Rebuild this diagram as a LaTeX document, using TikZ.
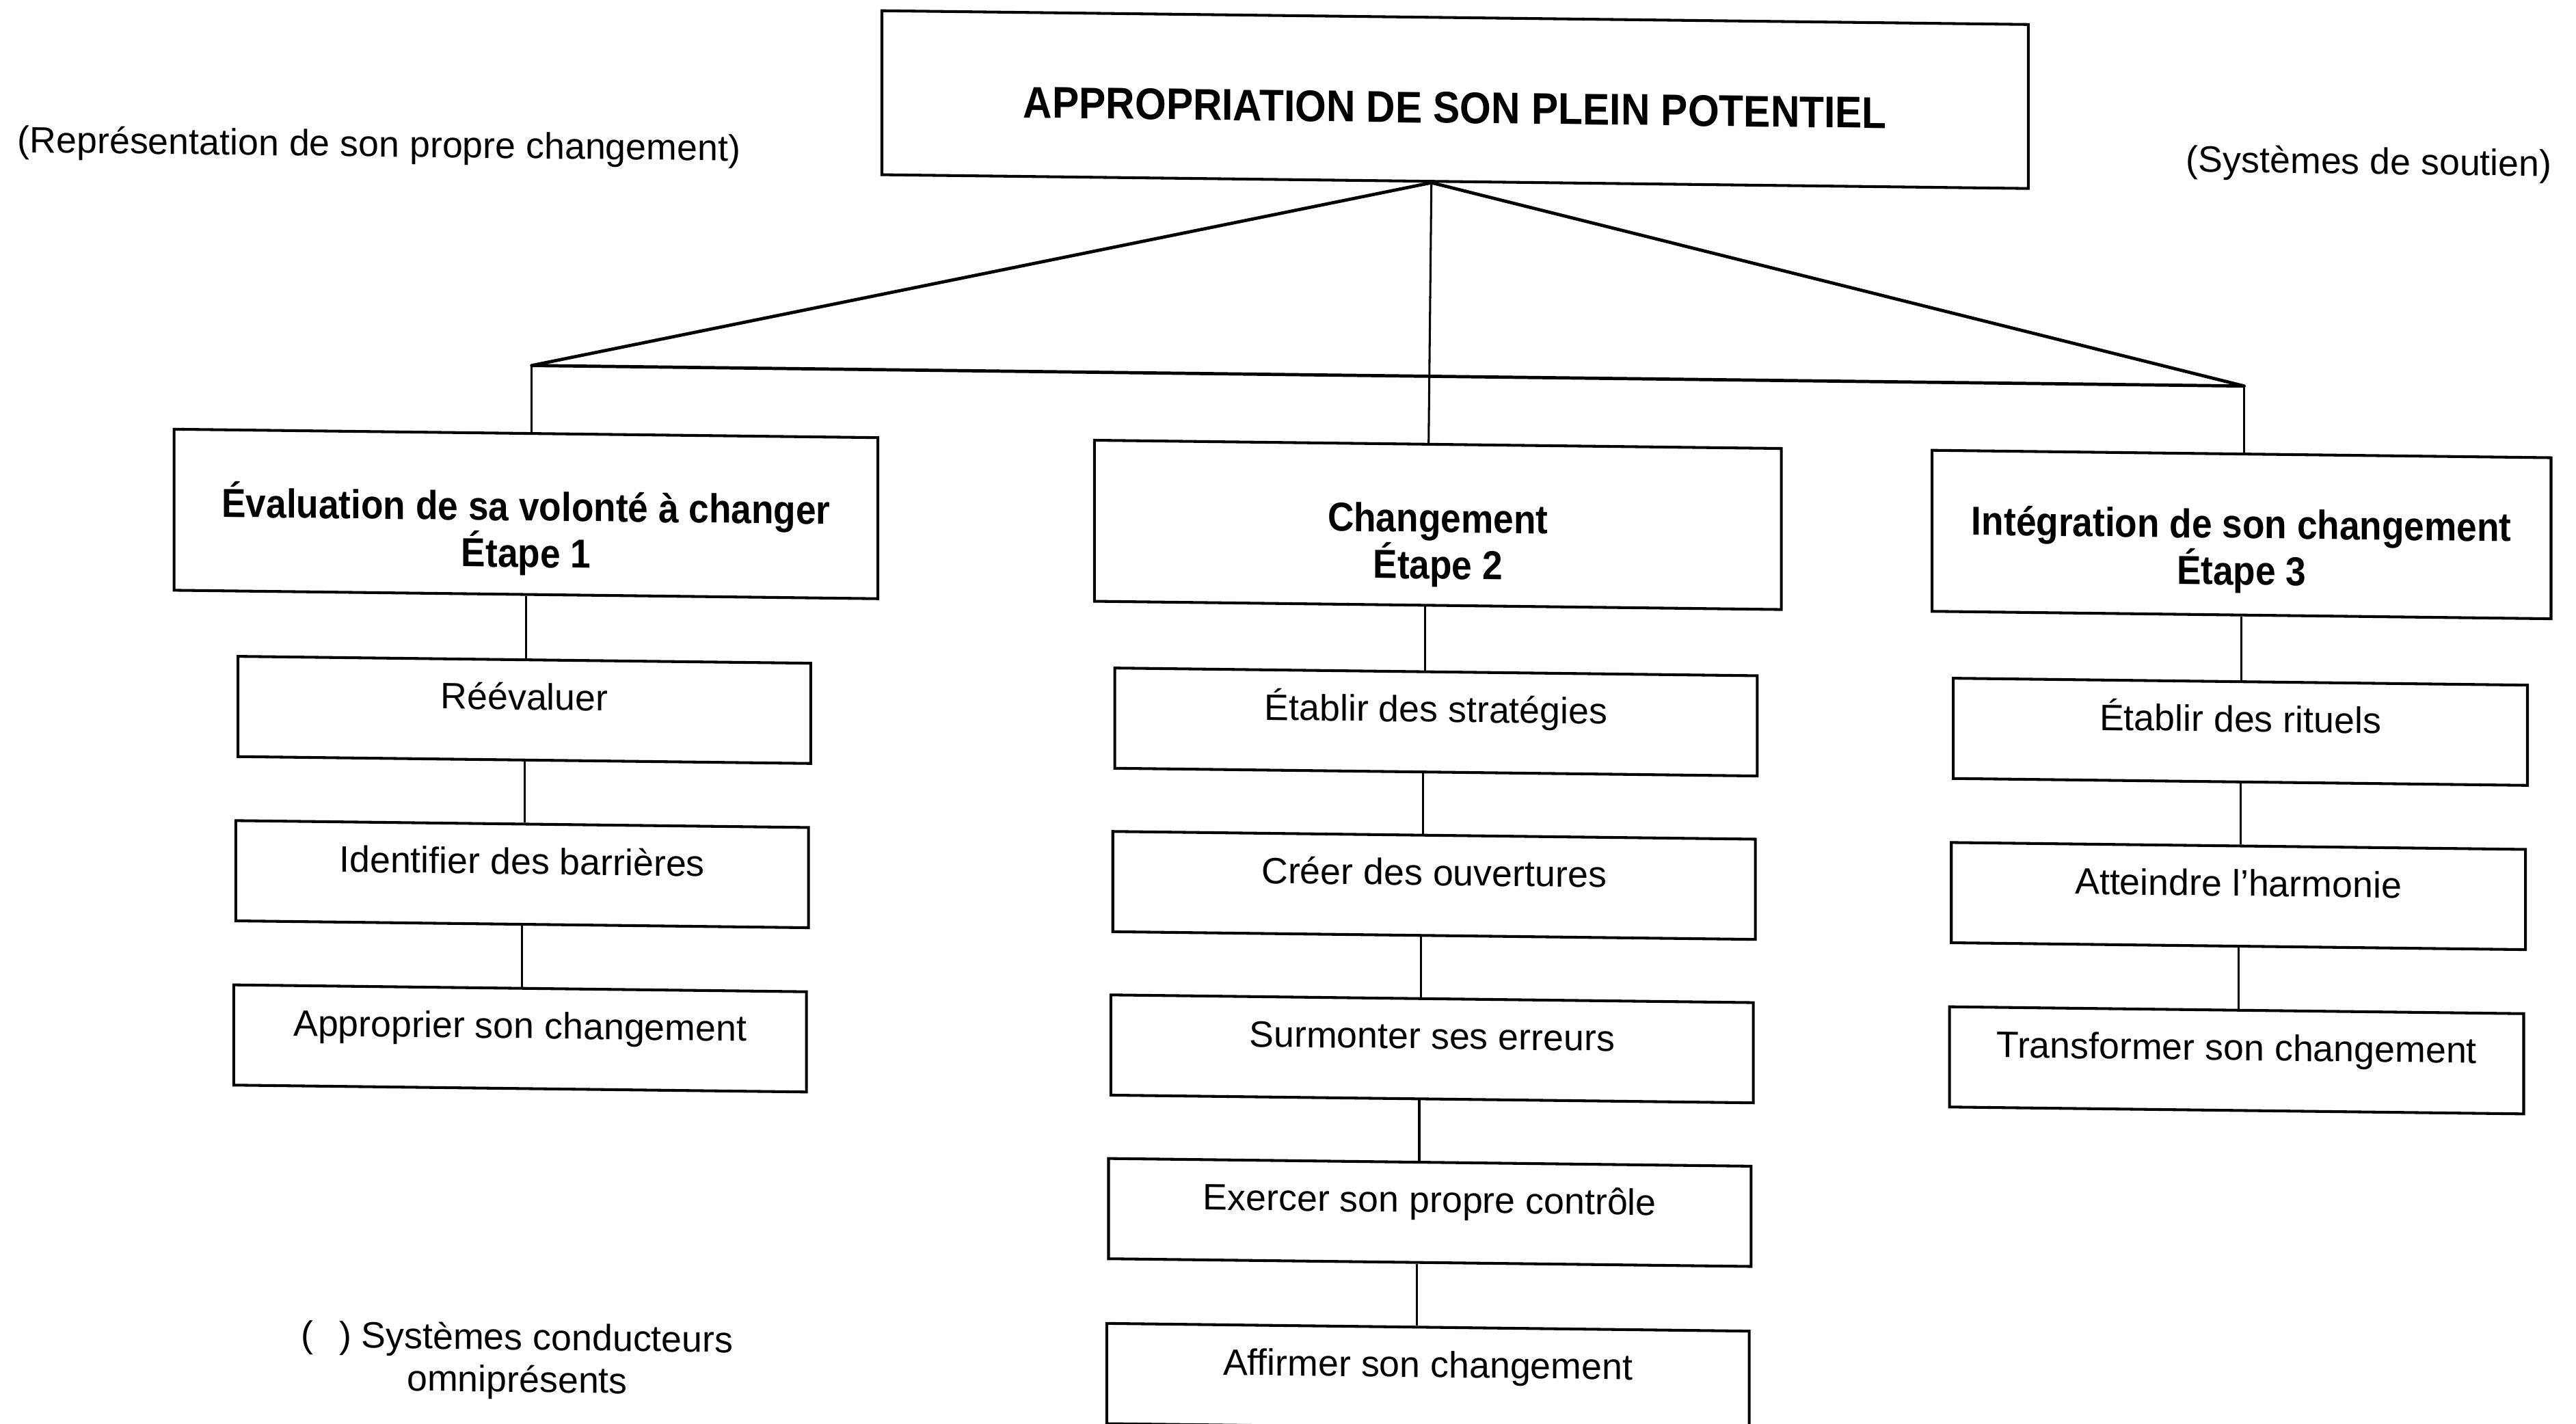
\documentclass[tikz,border=0pt]{standalone}
\usepackage{fontspec}
\usepackage{graphicx}
\setmainfont{Liberation Sans}
\newcommand{\narrowtxt}[1]{\scalebox{0.9}[1]{#1}}
\begin{document}
\begin{tikzpicture}[x=0.025cm, y=-0.025cm]
\useasboundingbox (0,0) rectangle (1568,866.4);
\clip (0,0) rectangle (1568,866.4);
\begin{scope}[cm={1,-0.012,0,1,(0,0)},
  every node/.style={transform shape},
  boxline/.style={draw=black, line width=1.2pt},
  apexbox/.style={boxline, inner sep=0pt, minimum width=17.44cm, minimum height=2.495cm},
  mainbox/.style={boxline, inner sep=0pt, minimum height=2.45cm},
  subbox/.style={boxline, inner xsep=0pt, inner ysep=0pt, text height=0.7625cm, text depth=0.7625cm, font=\fontsize{15.9}{19}\selectfont},
  titletext/.style={inner sep=0pt, font=\fontsize{19.2}{23}\selectfont\bfseries},
  headtext/.style={inner sep=0pt, align=center, font=\fontsize{17.5}{18.5}\selectfont\bfseries},
  notetext/.style={inner sep=0pt, font=\fontsize{15.9}{18.3}\selectfont},
  conn/.style={draw=black, line width=0.9pt},
  apexline/.style={draw=black, line width=1.4pt, line join=round}
]

% top box
\node[apexbox] (topbox) at (885.7,50) {};
\node[titletext] (toptext) at ([yshift=-0.125cm]topbox.center) {\scalebox{0.906}[1]{APPROPRIATION DE SON PLEIN POTENTIEL}};

% side notes
\node[notetext, anchor=base west] (lnote) at (10.5,92.6) {(Représentation de son propre changement)};
\node[notetext, anchor=base west] (rnote) at (1330.5,88.7) {(Systèmes de soutien)};
\node[notetext, align=center] (bnote) at (314.8,824.85) {(\hspace{0.7em}) Systèmes conducteurs\\omniprésents};

% main boxes
\node[mainbox, minimum width=10.7075cm] (b1) at (320.2,309) {};
\node[mainbox, minimum width=10.45cm] (b2) at (875.2,309) {};
\node[mainbox, minimum width=9.4175cm] (b3) at (1364.4,309) {};
\node[headtext] (b1t) at ([yshift=-0.25cm]b1.center) {\narrowtxt{Évaluation de sa volonté à changer}\\\narrowtxt{Étape 1}};
\node[headtext] (b2t) at ([yshift=-0.31cm]b2.center) {\narrowtxt{Changement}\\\narrowtxt{Étape 2}};
\node[headtext] (b3t) at ([yshift=-0.25cm]b3.center) {\narrowtxt{Intégration de son changement}\\\narrowtxt{Étape 3}};

% column 1
\node[subbox, minimum width=8.7125cm] (s1) at (319.2,428.3) {Réévaluer};
\node[subbox, minimum width=8.7125cm] (s2) at (317.8,528.3) {Identifier des barrières};
\node[subbox, minimum width=8.7125cm] (s3) at (316.6,628.3) {Approprier son changement};

% column 2
\node[subbox, minimum width=9.775cm] (c1) at (874.1,429) {Établir des stratégies};
\node[subbox, minimum width=9.775cm] (c2) at (872.9,528.5) {Créer des ouvertures};
\node[subbox, minimum width=9.775cm] (c3) at (871.7,628) {Surmonter ses erreurs};
\node[subbox, minimum width=9.775cm] (c4) at (870.3,727.6) {Exercer son propre contrôle};
\node[subbox, minimum width=9.775cm] (c5) at (869.2,828) {Affirmer son changement};

% column 3
\node[subbox, minimum width=8.735cm] (r1) at (1363.7,429.1) {Établir des rituels};
\node[subbox, minimum width=8.735cm] (r2) at (1362.5,529.1) {Atteindre l’harmonie};
\node[subbox, minimum width=8.735cm] (r3) at (1361.4,629.1) {Transformer son changement};

% connectors at the top
\coordinate (tj) at ([xshift=-0.36cm]topbox.south);
\coordinate (L) at (323.6,218.6);
\coordinate (R) at (1366,218.6);
\coordinate (b2n) at ([xshift=-0.14cm]b2.north);
\draw[apexline] (tj) -- (L) -- (R) -- cycle;
\draw[conn] (tj) -- (b2n);
\draw[conn] (L) -- (L |- b1.north);
\draw[conn] (R) -- (R |- b3.north);

% column 1 connectors
\draw[conn] (b1.south) -- (b1.south |- s1.north);
\draw[conn] (s1.south) -- (s1.south |- s2.north);
\draw[conn] (s2.south) -- (s2.south |- s3.north);

% column 2 connectors
\coordinate (k0) at ([xshift=-0.195cm]b2.south);
\coordinate (k1) at ([xshift=-0.195cm]c1.south);
\coordinate (k2) at ([xshift=-0.195cm]c2.south);
\coordinate (k3) at ([xshift=-0.195cm]c3.south);
\coordinate (k4) at ([xshift=-0.195cm]c4.south);
\draw[conn] (k0) -- (k0 |- c1.north);
\draw[conn] (k1) -- (k1 |- c2.north);
\draw[conn] (k2) -- (k2 |- c3.north);
\draw[conn] (k3) -- (k3 |- c4.north);
\draw[conn] (k4) -- (k4 |- c5.north);

% column 3 connectors
\draw[conn] (b3.south) -- (b3.south |- r1.north);
\draw[conn] (r1.south) -- (r1.south |- r2.north);
\draw[conn] (r2.south) -- (r2.south |- r3.north);
\end{scope}
\end{tikzpicture}
\end{document}
